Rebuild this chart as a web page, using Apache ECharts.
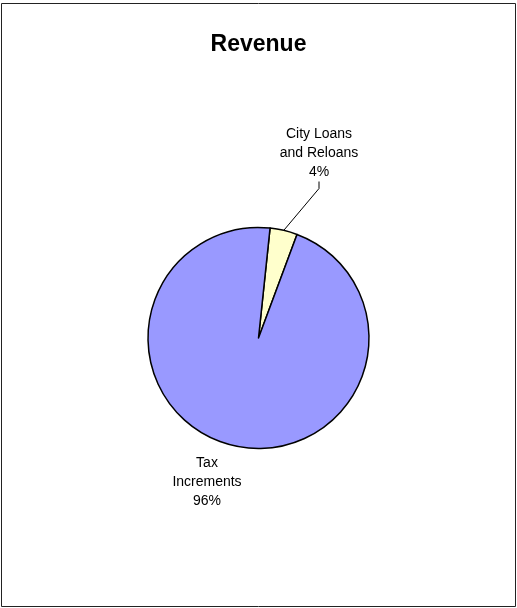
<!DOCTYPE html>
<html>
<head>
<meta charset="utf-8">
<script src="https://cdn.jsdelivr.net/npm/echarts@6/dist/echarts.min.js"></script>
<style>
  html, body { margin: 0; padding: 0; background: #fff; }
  #chart { width: 517px; height: 608px; }
</style>
</head>
<body>
<div id="chart"></div>
<script>
// Revenue split (percent of total)
const categories = ['City Loans and Reloans', 'Tax Increments'];
const labelTexts = ['City Loans\nand Reloans', 'Tax\nIncrements'];
const values = [4, 96];
const colors = ['#FFFFCC', '#9999FF'];

// label anchor points (centre of each text block), in pixels
const labelSpots = [[319, 153], [207, 482]];

const chart = echarts.init(document.getElementById('chart'), null, { renderer: 'canvas' });

const data = categories.map((name, i) => ({
  name: name,
  value: values[i],
  itemStyle: { color: colors[i] },
  labelLine: { show: i === 0 }
}));

chart.setOption({
  animation: false,
  backgroundColor: '#fff',
  title: {
    text: 'Revenue',
    left: 'center',
    top: 28,
    textStyle: {
      fontFamily: 'Liberation Sans, Arial, sans-serif',
      fontSize: 23,
      fontWeight: 'bold',
      color: '#000'
    }
  },
  graphic: [{
    type: 'rect',
    shape: { x: 1.5, y: 3.5, width: 514, height: 603 },
    style: { fill: 'none', stroke: '#222', lineWidth: 1 },
    silent: true
  }],
  series: [{
    type: 'pie',
    center: [258.5, 338],
    radius: 110.5,
    startAngle: 84,
    clockwise: true,
    avoidLabelOverlap: false,
    itemStyle: { borderColor: '#000', borderWidth: 1.5 },
    emphasis: { disabled: true },
    label: {
      show: true,
      position: 'outside',
      formatter: p => labelTexts[p.dataIndex] + '\n' + p.percent + '%',
      fontFamily: 'Liberation Sans, Arial, sans-serif',
      fontSize: 14,
      lineHeight: 19,
      color: '#000',
      align: 'center'
    },
    labelLine: {
      show: true,
      length: 10,
      length2: 7,
      lineStyle: { color: '#000', width: 1 }
    },
    labelLayout: function (params) {
      const s = labelSpots[params.dataIndex];
      return { x: s[0], y: s[1], align: 'center', verticalAlign: 'middle' };
    },
    data: data
  }]
});
</script>
</body>
</html>
